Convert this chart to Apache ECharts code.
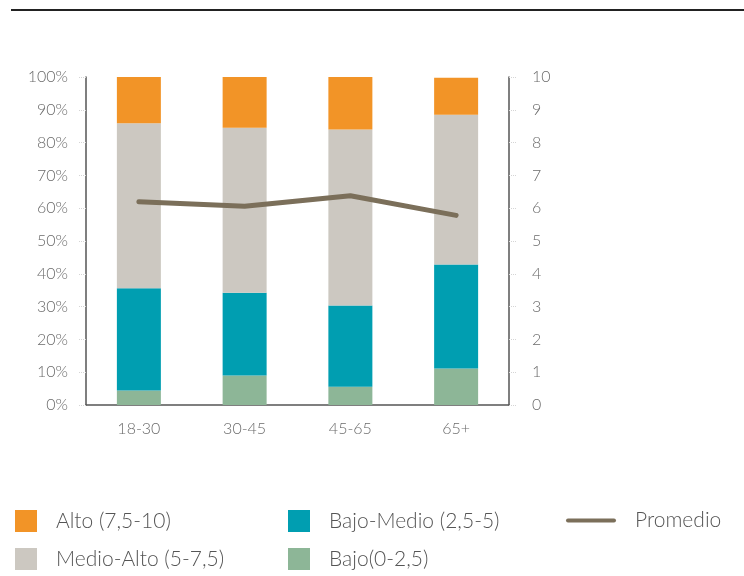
<!DOCTYPE html>
<html>
<head>
<meta charset="utf-8">
<script src="https://cdn.jsdelivr.net/npm/echarts@6/dist/echarts.min.js"></script>
<style>
  html, body { margin: 0; padding: 0; background: #fff; }
  #chart { width: 744px; height: 576px; }
</style>
</head>
<body>
<div id="chart"></div>
<script>
// Age groups
const categories = ['18-30', '30-45', '45-65', '65+'];

// Share of respondents per score band (%)
const bajo      = [4.4, 9.0, 5.6, 11.1];
const bajoMedio = [31.2, 25.2, 24.7, 31.7];
const medioAlto = [50.3, 50.3, 53.7, 45.7];
const alto      = [14.1, 15.5, 16.0, 11.3];

// Average score (0-10), right axis
const promedio = [6.20, 6.06, 6.38, 5.78];

const FONT = 'Lato';
const labelColor = '#6b6b6b';
const legendColor = '#555';

const colors = {
  alto: '#F29427',
  medioAlto: '#CCC8C1',
  bajoMedio: '#009EB1',
  bajo: '#8DB697',
  promedio: '#7B6F5A'
};

const chart = echarts.init(document.getElementById('chart'), null, { renderer: 'canvas' });

const barSeries = (name, data, color) => ({
  name, type: 'bar', stack: 'total', data,
  barWidth: 44,
  itemStyle: { color },
  emphasis: { disabled: true }
});

const legendText = {
  fontFamily: FONT, fontSize: 21, fontWeight: 300, color: legendColor,
  padding: [0, 0, 0, 14]
};

const legendBase = {
  orient: 'vertical', top: 510, height: 66, padding: 0,
  itemGap: 16, textStyle: legendText
};

chart.setOption({
  animation: false,
  grid: { left: 86, right: 235, top: 77, bottom: 171, containLabel: false },
  graphic: [{
    type: 'line',
    shape: { x1: 11, y1: 10, x2: 744, y2: 10 },
    style: { stroke: '#222', lineWidth: 2 }
  }],
  legend: [
    Object.assign({}, legendBase, {
      left: 15, itemWidth: 22, itemHeight: 22, icon: 'rect',
      data: ['Alto (7,5-10)', 'Medio-Alto (5-7,5)']
    }),
    Object.assign({}, legendBase, {
      left: 288, itemWidth: 22, itemHeight: 22, icon: 'rect',
      data: ['Bajo-Medio (2,5-5)', 'Bajo(0-2,5)']
    }),
    Object.assign({}, legendBase, {
      left: 566, itemWidth: 50, itemHeight: 22,
      data: [{ name: 'Promedio', icon: 'path://M2,9 L48,9 A2,2 0 0 1 48,13 L2,13 A2,2 0 0 1 2,9 Z' }],
      itemStyle: { color: '#7B6F5A' }
    })
  ],
  xAxis: {
    type: 'category',
    data: categories,
    axisLine: { lineStyle: { color: '#555', width: 1.5 } },
    axisTick: { show: false },
    axisLabel: { margin: 16, fontFamily: FONT, fontSize: 16, fontWeight: 300, color: labelColor }
  },
  yAxis: [
    {
      type: 'value', min: 0, max: 100, interval: 10,
      axisLine: { show: true, lineStyle: { color: '#555', width: 1.5 } },
      axisTick: { show: true, length: 7, lineStyle: { color: '#d5d5d5', type: 'dotted' } },
      splitLine: { show: false },
      axisLabel: {
        margin: 18, formatter: '{value}%',
        fontFamily: FONT, fontSize: 16, fontWeight: 300, color: labelColor
      }
    },
    {
      type: 'value', min: 0, max: 10, interval: 1, position: 'right',
      axisLine: { show: true, lineStyle: { color: '#555', width: 1.5 } },
      axisTick: { show: true, length: 7, lineStyle: { color: '#d5d5d5', type: 'dotted' } },
      splitLine: { show: false },
      axisLabel: {
        margin: 23,
        fontFamily: FONT, fontSize: 16, fontWeight: 300, color: labelColor
      }
    }
  ],
  series: [
    barSeries('Bajo(0-2,5)', bajo, colors.bajo),
    barSeries('Bajo-Medio (2,5-5)', bajoMedio, colors.bajoMedio),
    barSeries('Medio-Alto (5-7,5)', medioAlto, colors.medioAlto),
    barSeries('Alto (7,5-10)', alto, colors.alto),
    {
      name: 'Promedio', type: 'line', yAxisIndex: 1, data: promedio,
      showSymbol: false, symbol: 'none',
      lineStyle: { color: colors.promedio, width: 5, cap: 'round', join: 'round' },
      itemStyle: { color: colors.promedio },
      emphasis: { disabled: true }
    }
  ]
});
</script>
</body>
</html>
